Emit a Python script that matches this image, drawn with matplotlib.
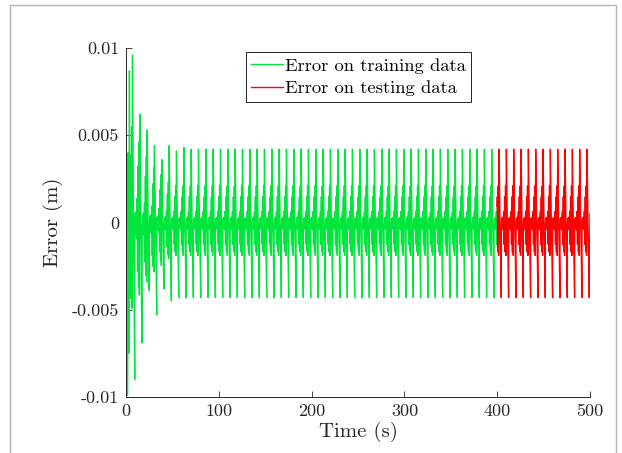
import numpy as np
import matplotlib.pyplot as plt
from matplotlib.patches import Rectangle

plt.rcParams['font.family'] = 'cmr10'
plt.rcParams['axes.unicode_minus'] = False
plt.rcParams['mathtext.fontset'] = 'cm'

# start of the run, before the first full cycle (s, m)
t_start = [0.0, 1.7, 2.4, 3.0, 3.7, 4.5]
e_start = [0.0076, -0.0099, 0.0040, -0.0075, 0.0087, -0.0040]

# one period of the repeating error, relative to the positive spike
shape_dt = [-5.4, -4.9, -4.4, -3.9, -3.4, -2.9, -2.4, -1.9, -1.4, -0.9, -0.5, -0.2, 0.0, 0.9, 1.8, 2.4]
shape_v = [-0.05, 0.06, -0.08, 0.07, -0.10, 0.15, -0.30, 0.35, -0.40, 0.50, -0.45, 0.60, 1.0, 0.10, -0.50, -1.0]

# spike heights per cycle (transient first, then steady)
period = 7.9
first_spike = 7.0
n_cycles = 63
pos_peak_start = [0.0096, 0.0062, 0.0053, 0.0044, 0.0036, 0.0044, 0.0041, 0.0043]
neg_peak_start = [-0.0090, -0.0069, -0.0039, -0.0053, -0.0038, -0.0045, -0.0043]
ripple_start = [2.6, 2.2, 1.8, 1.5, 1.3, 1.1]
steady_pos = 0.0042
steady_neg = -0.0043

t_end = [500.0]
e_end = [0.0005]

split_t = 400.0

# build the series
t_all = list(t_start)
e_all = list(e_start)
for k in range(n_cycles):
    p = pos_peak_start[k] if k < len(pos_peak_start) else steady_pos
    n = neg_peak_start[k] if k < len(neg_peak_start) else steady_neg
    r = ripple_start[k] if k < len(ripple_start) else 1.0
    t0 = first_spike + period * k
    for dt, v in zip(shape_dt, shape_v):
        t = t0 + dt
        if t < 5.0:
            continue
        if v == 1.0:
            val = p
        elif v == -1.0:
            val = n
        else:
            val = v * steady_pos * r
        t_all.append(t)
        e_all.append(val)
t_all += t_end
e_all += e_end
t_all = np.array(t_all)
e_all = np.array(e_all)

i_split = np.searchsorted(t_all, split_t)
t_train = np.append(t_all[:i_split], split_t)
e_train = np.append(e_all[:i_split], np.interp(split_t, t_all, e_all))
t_test = np.insert(t_all[i_split:], 0, split_t)
e_test = np.insert(e_all[i_split:], 0, e_train[-1])

fig = plt.figure(figsize=(6.22, 4.53), dpi=100)
ax = fig.add_axes([126/622, 1-397/453, 464/622, 349/453])

ax.plot(t_train, e_train, color='#00e63c', lw=1.0, label='Error on training data')
ax.plot(t_test, e_test, color='#ff0000', lw=1.0, label='Error on testing data')

ax.set_xlim(0, 500)
ax.set_ylim(-0.01, 0.01)
ax.set_xticks([0, 100, 200, 300, 400, 500])
ax.set_yticks([-0.01, -0.005, 0, 0.005, 0.01])
ax.set_yticklabels(['-0.01', '-0.005', '0', '0.005', '0.01'])
ax.tick_params(direction='in', length=4, width=0.6, labelsize=13, colors='#262626', pad=5)
for s in ['top', 'right']:
    ax.spines[s].set_visible(False)
for s in ['left', 'bottom']:
    ax.spines[s].set_color('#262626')
    ax.spines[s].set_linewidth(0.7)

ax.set_xlabel('Time (s)', fontsize=15, color='#262626', labelpad=2)
ax.set_ylabel('Error (m)', fontsize=15, color='#262626', labelpad=6)

leg = ax.legend(loc='upper left', bbox_to_anchor=(0.258, 0.988), fontsize=13.4,
                handlelength=1.7, handletextpad=0.1, borderpad=0.3,
                labelspacing=0.35, borderaxespad=0, fancybox=False, framealpha=1)
leg.get_frame().set_edgecolor('#262626')
leg.get_frame().set_linewidth(0.7)

# grey frame around the figure
fig.patches.append(Rectangle((10/622, -0.05), 606/622, 1.05 - 5/453, transform=fig.transFigure,
                             fill=False, edgecolor='#b4b4b4', lw=1.0))

fig.savefig('out.png', dpi=100)
